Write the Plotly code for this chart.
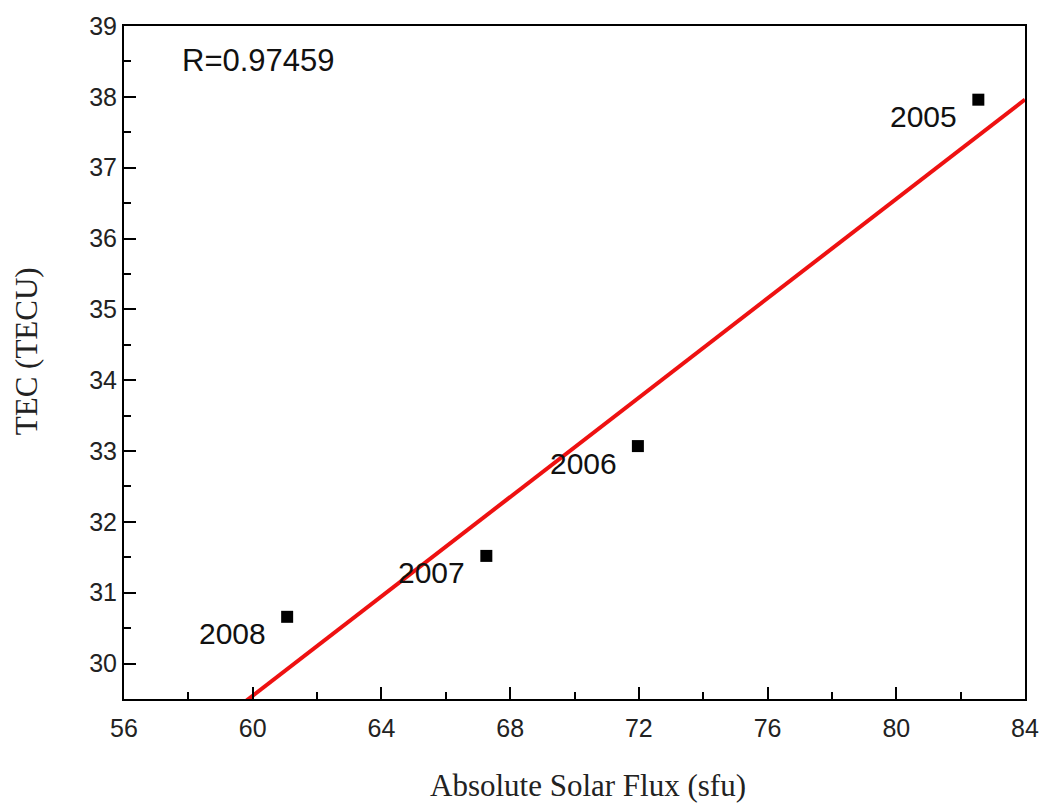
import numpy as np
import plotly.graph_objects as go

years = ["2005", "2006", "2007", "2008"]
solar_flux = [82.55, 71.97, 67.26, 61.07]
tec = [37.96, 33.07, 31.52, 30.66]
r_text = "R=0.97459"

slope, intercept = np.polyfit(solar_flux, tec, 1)
fit_x = [56, 84]
fit_y = [slope * v + intercept for v in fit_x]

fig = go.Figure()
fig.add_trace(go.Scatter(x=fit_x, y=fit_y, mode="lines",
                         line=dict(color="#ee1111", width=4), showlegend=False))
fig.add_trace(go.Scatter(x=solar_flux, y=tec, mode="markers",
                         marker=dict(symbol="square", size=12, color="black"),
                         showlegend=False))

for xv, yv, lab in zip(solar_flux, tec, years):
    fig.add_annotation(x=xv, y=yv, text=lab, showarrow=False,
                       xanchor="right", yanchor="middle", xshift=-19, yshift=-17,
                       font=dict(family="Liberation Sans, Arial", size=30, color="#111"))

fig.add_annotation(x=0.062, y=0.948, xref="paper", yref="paper", text=r_text,
                   showarrow=False, xanchor="left", yanchor="middle",
                   font=dict(family="Liberation Sans, Arial", size=31, color="#111"))

title_font = dict(family="Liberation Serif, Times New Roman", size=31, color="#222")
fig.add_annotation(x=591, y=786, xref="paper", yref="paper", text="Absolute Solar Flux (sfu)",
                   showarrow=False, font=title_font)
fig.add_annotation(x=26, y=349, text="TEC (TECU)", showarrow=False, textangle=-90,
                   font=title_font)

axis_common = dict(showgrid=False, zeroline=False, showline=True, linecolor="black",
                   linewidth=2, mirror=True, ticks="inside", ticklen=12, tickwidth=2,
                   tickcolor="black",
                   tickfont=dict(family="Liberation Sans, Arial", size=25, color="#222"))

fig.update_xaxes(range=[56, 84], tick0=56, dtick=4, ticklabelstandoff=6,
                 minor=dict(ticks="inside", ticklen=7, tickwidth=2, tickcolor="black", dtick=2),
                 **axis_common)
fig.update_yaxes(range=[29.5, 39], tick0=30, dtick=1,
                 minor=dict(ticks="inside", ticklen=7, tickwidth=2, tickcolor="black", dtick=0.5),
                 **axis_common)

W, H = 1051, 804
ml, mr, mt, mb = 124, 20, 21, 105
fig.update_layout(width=W, height=H, plot_bgcolor="white", paper_bgcolor="white",
                  margin=dict(l=ml, r=mr, t=mt, b=mb))

# convert title annotation pixel positions to paper coords
pw, ph = W - ml - mr, H - mt - mb
anns = list(fig.layout.annotations)
anns[-2].update(x=(591 - ml) / pw, y=(H - mb - 786) / ph, xanchor="center", yanchor="middle")
anns[-1].update(x=(26 - ml) / pw, y=(H - mb - 349) / ph, xref="paper", yref="paper",
                xanchor="center", yanchor="middle")
fig.update_layout(annotations=anns)

fig.write_html("out.html")
